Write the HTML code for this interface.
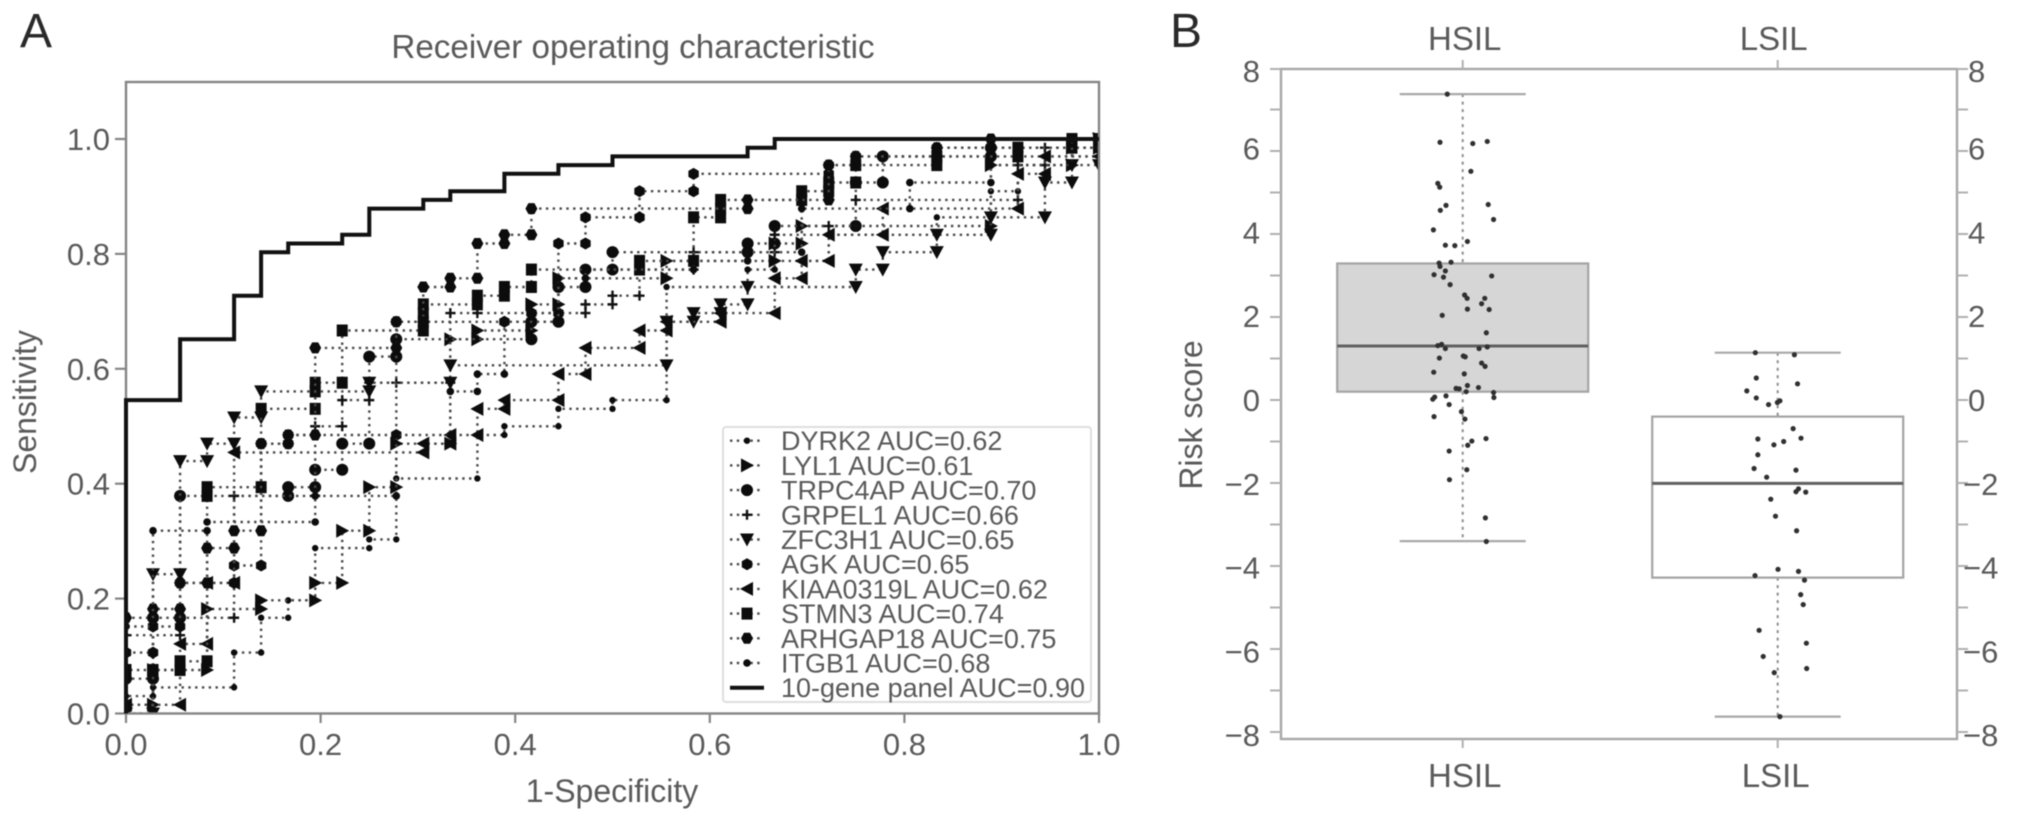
<!DOCTYPE html>
<html lang="en">
<head>
<meta charset="utf-8">
<title>ROC curves and risk score boxplot</title>
<style>
html,body{margin:0;padding:0;background:#fff;width:2032px;height:822px;overflow:hidden}
svg{display:block;filter:blur(.5px)}
text{font-family:"Liberation Sans",sans-serif;fill:#5a5a5a}
</style>
</head>
<body>
<svg id="figure" xmlns="http://www.w3.org/2000/svg" width="2032" height="822" viewBox="0 0 2032 822">
  <defs><clipPath id="roc-clip"><rect x="126" y="82" width="973" height="631.5"/></clipPath></defs>
  <rect x="0" y="0" width="2032" height="822" fill="#fff"/>
  <text x="20" y="47" font-size="48" style="fill:#2a2a2a">A</text>
  <text x="1170" y="47" font-size="48" style="fill:#2a2a2a">B</text>
  <text x="633" y="58" font-size="33.2" text-anchor="middle">Receiver operating characteristic</text>
  <text x="612" y="802" font-size="32" text-anchor="middle">1-Specificity</text>
  <text transform="translate(36,402) rotate(-90)" font-size="32" text-anchor="middle">Sensitivity</text>
  <text transform="translate(1202,415) rotate(-90)" font-size="32" text-anchor="middle">Risk score</text>
  <g id="roc"></g>
  <g id="box"></g>
</svg>
<script>
/* ROC data: counts of false positives (of 36) and true positives (of 66) at each curve corner */
const negativeCount = 36;
const positiveCount = 66;
const rocTicks = [0, 0.2, 0.4, 0.6, 0.8, 1.0];
const dyrk2Fp = [0,1,1,4,4,5,5,6,6,7,7,9,9,10,10,13,13,14,14,16,16,18,18,20,20,23,23,24,24,26,26,30,30,32,32,33,33,36,36];
const dyrk2Tp = [2,2,3,3,7,7,11,11,13,13,19,19,20,20,27,27,32,32,33,33,35,35,36,36,49,49,51,51,52,52,55,55,57,57,60,60,64,64,66];
const lyl1Fp = [0,1,1,3,3,5,5,7,7,8,8,9,9,10,10,12,12,13,13,15,15,16,16,20,20,24,24,25,25,32,32,35,35,36,36];
const lyl1Tp = [1,1,5,5,12,12,13,13,15,15,21,21,26,26,31,31,43,43,44,44,47,47,50,50,52,52,54,54,56,56,63,63,65,65,66];
const trpc4apFp = [0,1,1,2,2,6,6,7,7,8,8,9,9,10,10,15,15,16,16,17,17,18,18,23,23,24,24,27,27,28,28,32,32,36,36];
const trpc4apTp = [4,4,11,11,25,25,26,26,28,28,31,31,41,41,43,43,45,45,49,49,51,51,53,53,54,54,56,56,61,61,64,64,65,65,66];
const grpel1Fp = [0,2,2,4,4,7,7,8,8,9,9,10,12,12,13,17,17,18,18,19,19,21,21,24,24,26,26,27,27,33,33,34,34,36,36];
const grpel1Tp = [9,9,11,11,25,25,33,33,36,36,38,38,38,46,46,46,47,47,48,48,51,51,53,53,55,55,56,56,59,59,63,63,65,65,66];
const zfc3h1Fp = [0,1,1,2,2,3,3,4,4,5,5,9,9,12,12,20,20,21,21,22,22,23,23,27,27,28,28,30,30,32,32,34,34,35,35,36,36];
const zfc3h1Tp = [0,0,16,16,29,29,31,31,34,34,37,37,38,38,40,40,45,45,46,46,47,47,49,49,51,51,53,53,55,55,57,57,61,61,63,63,66];
const agkFp = [0,1,1,2,2,4,4,5,5,6,6,10,10,14,15,15,16,16,17,17,19,19,21,21,26,26,27,27,30,30,35,35,36];
const agkTp = [7,7,10,10,15,15,17,17,31,31,32,32,45,45,45,46,46,54,54,57,57,60,60,62,62,63,63,64,64,65,65,66,66];
const kiaa0319lFp = [0,2,2,3,3,4,4,11,11,12,12,13,13,14,14,16,16,17,17,19,19,20,20,22,22,24,24,25,25,26,26,28,28,33,33,34,34,36,36];
const kiaa0319lTp = [1,1,8,8,15,15,30,30,31,31,32,32,35,35,36,36,39,39,42,42,44,44,45,45,46,46,50,50,52,52,55,55,58,58,62,62,64,64,66];
const stmn3Fp = [0,1,2,2,3,3,3,5,5,7,7,7,8,8,11,11,11,11,13,13,14,14,15,15,19,19,21,21,22,22,22,25,25,26,26,27,27,30,30,33,33,35,35,36];
const stmn3Tp = [5,5,5,6,6,25,26,26,35,35,37,38,38,44,44,45,46,47,47,48,48,49,49,51,51,52,52,57,57,58,59,59,60,60,61,61,63,63,64,64,65,65,66,66];
const arhgap18Fp = [0,1,1,2,2,3,3,4,4,5,5,6,6,7,7,10,10,11,11,12,12,13,13,14,14,15,15,23,23,26,26,27,27,30,30,32,32,36];
const arhgap18Tp = [11,11,12,12,15,15,19,19,21,21,31,31,32,32,42,42,45,45,49,49,50,50,54,54,55,55,58,58,59,59,63,63,64,64,65,65,66,66];
const itgb1Fp = [0,1,1,3,3,7,7,10,10,12,12,13,13,14,14,16,16,17,17,21,21,23,23,25,25,29,29,32,32,35,35,36];
const itgb1Tp = [10,10,21,21,22,22,25,25,32,32,37,37,39,39,45,45,50,50,51,51,52,52,53,53,58,58,61,61,63,63,66,66];
const panelFp = [0,0,2,2,4,4,5,5,6,6,8,8,9,9,11,11,12,12,14,14,16,16,18,18,23,23,24,24,36];
const panelTp = [0,36,36,43,43,48,48,53,53,54,54,55,55,58,58,59,59,60,60,62,62,63,63,64,64,65,65,66,66];
const geneNames = ["DYRK2","LYL1","TRPC4AP","GRPEL1","ZFC3H1","AGK","KIAA0319L","STMN3","ARHGAP18","ITGB1"];
const geneAucs = ["0.62","0.61","0.70","0.66","0.65","0.65","0.62","0.74","0.75","0.68"];
const geneShapes = ["dot","right","circle","plus","down","hex","left","square","hex2","dot2"];
const geneFps = [dyrk2Fp,lyl1Fp,trpc4apFp,grpel1Fp,zfc3h1Fp,agkFp,kiaa0319lFp,stmn3Fp,arhgap18Fp,itgb1Fp];
const geneTps = [dyrk2Tp,lyl1Tp,trpc4apTp,grpel1Tp,zfc3h1Tp,agkTp,kiaa0319lTp,stmn3Tp,arhgap18Tp,itgb1Tp];
const panelAuc = "0.90";

/* Boxplot data */
const boxCategories = ["HSIL","LSIL"];
const boxQ1 = [0.20,-4.28];
const boxMedian = [1.30,-2.01];
const boxQ3 = [3.29,-0.40];
const whiskerLow = [-3.40,-7.63];
const whiskerHigh = [7.37,1.14];
const riskTicks = [-8,-6,-4,-2,0,2,4,6,8];
const riskMinorTicks = [-7,-5,-3,-1,1,3,5,7];
const hsilRisk = [7.37,6.21,6.18,6.23,5.51,5.22,5.13,4.69,4.57,4.71,4.35,4.10,3.82,3.73,3.72,3.30,3.22,3.32,3.11,3.02,2.96,2.99,2.78,2.53,2.45,2.45,2.32,2.19,2.18,2.04,1.62,1.34,1.31,1.24,1.24,1.28,1.01,1.06,1.04,0.89,0.81,0.67,0.63,0.28,0.27,0.35,0.20,0.30,0.18,0.06,0.10,0.07,0.02,-0.11,-0.28,-0.40,-0.46,-0.93,-0.99,-1.09,-1.23,-1.68,-1.92,-2.84,-3.41];
const hsilJitter = [-.049,-.072,.032,.078,.026,-.079,-.073,-.053,-.071,.081,.098,-.093,.015,-.055,-.025,-.075,-.072,-.037,-.055,-.091,-.061,.092,-.040,.006,.014,.070,.060,.015,.084,-.065,.075,-.067,-.079,-.055,.052,.078,-.074,.002,.008,.060,.071,-.092,.005,-.021,-.011,.015,.011,.050,.098,.099,-.053,-.089,-.095,-.043,-.004,-.091,.007,.074,.029,.016,-.043,.013,-.042,.072,.075];
const lsilRisk = [1.14,1.09,.53,.39,.22,.05,-.11,-.06,-.02,-.69,-.94,-.92,-1.00,-1.08,-1.32,-1.65,-1.69,-1.86,-2.14,-2.21,-2.22,-2.39,-2.80,-3.15,-4.08,-4.13,-4.23,-4.34,-4.69,-4.93,-5.55,-5.86,-6.18,-6.57,-6.47,-7.63];
const lsilJitter = [-.071,.053,-.068,.063,-.098,-.068,-.029,-.001,.007,.049,-.063,.074,.019,-.012,-.063,-.075,.058,-.035,.066,.058,.089,-.022,-.007,.060,.001,.066,-.072,.085,.073,.081,-.059,.091,-.046,-.011,.092,.007];

const NS = "http://www.w3.org/2000/svg";
function make(tag, parent) {
  const el = document.createElementNS(NS, tag);
  parent.appendChild(el);
  return el;
}
function setAll(el, props) {
  Object.keys(props).forEach(function (k) { el.setAttribute(k, props[k]); });
}

/* ---------- axis functions ---------- */
const rocX = function (v) { return 126 + 973 * v; };
const rocY = function (v) { return 713.5 - 574.5 * v; };
const boxX = function (pos) { return 1462.7 + 315 * pos; };
const boxY = function (v) { return 400 - 41.5 * v; };
const boxLabelY = function (v) { return Math.max(71, 400 - 41.9 * v); };

/* ---------- marker drawing ---------- */
function markerPath(shape, x, y) {
  const p = function (pts) { return "M" + pts.map(function (q) { return (x + q[0]) + " " + (y + q[1]); }).join("L") + "Z"; };
  if (shape === "right") return p([[-6,-7],[7,0],[-6,7]]);
  if (shape === "left") return p([[6,-7],[-7,0],[6,7]]);
  if (shape === "down") return p([[-7,-6],[7,-6],[0,7]]);
  if (shape === "square") return p([[-5.5,-6],[5.5,-6],[5.5,6],[-5.5,6]]);
  if (shape === "hex") return p([[0,-6],[5.2,-3],[5.2,3],[0,6],[-5.2,3],[-5.2,-3]]);
  if (shape === "hex2") return p([[-3,-5.5],[3,-5.5],[6,0],[3,5.5],[-3,5.5],[-6,0]]);
  return "";
}
function drawMarker(parent, shape, x, y) {
  let el;
  if (shape === "dot" || shape === "dot2" || shape === "circle") {
    el = make("circle", parent);
    el.setAttribute("cx", x);
    el.setAttribute("cy", y);
    el.setAttribute("r", shape === "circle" ? 6 : (shape === "dot2" ? 3.8 : 3.2));
    el.setAttribute("fill", "#0c0c0c");
  } else if (shape === "plus") {
    el = make("path", parent);
    el.setAttribute("d", "M" + (x - 5) + " " + y + "H" + (x + 5) + "M" + x + " " + (y - 5) + "V" + (y + 5));
    el.setAttribute("stroke", "#111");
    el.setAttribute("stroke-width", "2.4");
    el.setAttribute("fill", "none");
  } else {
    el = make("path", parent);
    el.setAttribute("d", markerPath(shape, x, y));
    el.setAttribute("fill", "#0c0c0c");
  }
  return el;
}

/* ---------- ROC panel ---------- */
const roc = document.getElementById("roc");
geneNames.forEach(function (name, s) {
  const g = make("g", roc);
  
  
  g.setAttribute("clip-path", "url(#roc-clip)");
  const fp = geneFps[s];
  const tp = geneTps[s];
  let d = "M" + rocX(0) + " " + rocY(0);
  const n = Math.min(fp.length, tp.length);
  for (let i = 0; i < n; i++) {
    d += "L" + rocX(fp[i] / negativeCount).toFixed(1) + " " + rocY(tp[i] / positiveCount).toFixed(1);
  }
  const line = make("path", g);
  
  
  setAll(line, { d: d, fill: "none", stroke: "#4a4a4a", "stroke-width": "2.4", "stroke-dasharray": "2.4 4.4" });
  for (let i = 0; i < n; i++) {
    const m = drawMarker(g, geneShapes[s], rocX(fp[i] / negativeCount), rocY(tp[i] / positiveCount));
    
    
  }
});

/* ROC frame and ticks */
const rocFrame = make("rect", roc);


setAll(rocFrame, { x: 126, y: 82, width: 973, height: 631.5, fill: "none", stroke: "#858585", "stroke-width": "2.4" });
rocTicks.forEach(function (t) {
  const tx = make("line", roc);
  
  
  setAll(tx, { x1: rocX(t), x2: rocX(t), y1: 713, y2: 723, stroke: "#858585", "stroke-width": "2.2" });
  const lx = make("text", roc);
  
  
  setAll(lx, { x: rocX(t), y: 755, "font-size": "31", "text-anchor": "middle" });
  lx.textContent = t.toFixed(1);
  const ty = make("line", roc);
  
  
  setAll(ty, { x1: 115, x2: 126, y1: rocY(t), y2: rocY(t), stroke: "#858585", "stroke-width": "2.2" });
  const ly = make("text", roc);
  
  
  setAll(ly, { x: 110, y: rocY(t) + 11, "font-size": "31", "text-anchor": "end" });
  ly.textContent = t.toFixed(1);
});

/* Combined panel curve sits over the frame, as in the source figure */
const panelGroup = make("g", roc);


let panelD = "";
for (let i = 0; i < panelFp.length; i++) {
  panelD += (i ? "L" : "M") + rocX(panelFp[i] / negativeCount).toFixed(1) + " " + rocY(panelTp[i] / positiveCount).toFixed(1);
}
const panelLine = make("path", panelGroup);


setAll(panelLine, { d: panelD, fill: "none", stroke: "#111", "stroke-width": "4", "stroke-linejoin": "miter" });

/* Legend */
const legend = make("g", roc);


const legendBox = make("rect", legend);


setAll(legendBox, { x: 723, y: 427, width: 368, height: 275, rx: 3, fill: "#fff", stroke: "#dedede", "stroke-width": "2" });
geneNames.forEach(function (name, s) {
  const rowY = 440.7 + 24.7 * s;
  const dash = make("line", legend);
  
  
  setAll(dash, { x1: 730, x2: 764, y1: rowY, y2: rowY, stroke: "#4a4a4a", "stroke-width": "2.4", "stroke-dasharray": "2.4 4.4" });
  const m = drawMarker(legend, geneShapes[s], 747, rowY);
  
  
  const lab = make("text", legend);
  
  
  setAll(lab, { x: 781, y: rowY + 9.5, "font-size": "27" });
  lab.textContent = name + " AUC=" + geneAucs[s];
});
const panelRowY = 440.7 + 24.7 * 10;
const panelHandle = make("line", legend);


setAll(panelHandle, { x1: 730, x2: 764, y1: panelRowY, y2: panelRowY, stroke: "#111", "stroke-width": "4" });
const panelLabel = make("text", legend);


setAll(panelLabel, { x: 781, y: panelRowY + 9.5, "font-size": "27" });
panelLabel.textContent = "10-gene panel AUC=" + panelAuc;

/* ---------- Box plot panel ---------- */
const box = document.getElementById("box");
const boxFrame = make("rect", box);


setAll(boxFrame, { x: 1281, y: 69, width: 676, height: 670, fill: "none", stroke: "#a8a8a8", "stroke-width": "2.4" });

riskTicks.concat(riskMinorTicks).forEach(function (t) {
  const left = make("line", box);
  
  
  setAll(left, { x1: 1270, x2: 1281, y1: Math.max(69, boxY(t)), y2: Math.max(69, boxY(t)), stroke: "#b0b0b0", "stroke-width": "2" });
  const right = make("line", box);
  
  
  setAll(right, { x1: 1957, x2: 1968, y1: Math.max(69, boxY(t)), y2: Math.max(69, boxY(t)), stroke: "#b0b0b0", "stroke-width": "2" });
});
riskTicks.forEach(function (t) {
  const a = make("text", box);
  
  
  setAll(a, { x: 1260, y: boxLabelY(t) + 11, "font-size": "31", "text-anchor": "end" });
  a.textContent = t < 0 ? "\u2212" + (-t) : String(t);
  const b = make("text", box);
  
  
  setAll(b, { x: t < 0 ? 1963 : 1968, y: boxLabelY(t) + 11, "font-size": "31" });
  b.textContent = t < 0 ? "\u2212" + (-t) : String(t);
});

boxCategories.forEach(function (cat, c) {
  const cx = boxX(c);
  const halfBox = 125.5;
  const halfCap = 63;
  const whisk = make("path", box);
  
  
  setAll(whisk, { d: "M" + cx + " " + boxY(whiskerHigh[c]) + "V" + boxY(boxQ3[c]) + "M" + cx + " " + boxY(boxQ1[c]) + "V" + boxY(whiskerLow[c]), stroke: "#8c8c8c", "stroke-width": "2", "stroke-dasharray": "3 4.5", fill: "none" });
  const capH = make("line", box);
  
  
  setAll(capH, { x1: cx - halfCap, x2: cx + halfCap, y1: boxY(whiskerHigh[c]), y2: boxY(whiskerHigh[c]), stroke: "#a8a8a8", "stroke-width": "2.2" });
  const capL = make("line", box);
  
  
  setAll(capL, { x1: cx - halfCap, x2: cx + halfCap, y1: boxY(whiskerLow[c]), y2: boxY(whiskerLow[c]), stroke: "#a8a8a8", "stroke-width": "2.2" });
  const rect = make("rect", box);
  
  
  setAll(rect, { x: cx - halfBox, y: boxY(boxQ3[c]), width: halfBox * 2, height: boxY(boxQ1[c]) - boxY(boxQ3[c]), fill: c === 0 ? "#d6d6d6" : "#ffffff", stroke: "#a4a4a4", "stroke-width": "2.2" });
  const med = make("line", box);
  
  
  setAll(med, { x1: cx - halfBox, x2: cx + halfBox, y1: boxY(boxMedian[c]), y2: boxY(boxMedian[c]), stroke: "#606060", "stroke-width": "3" });
  const tt = make("line", box);
  
  
  setAll(tt, { x1: cx, x2: cx, y1: 60, y2: 69, stroke: "#b0b0b0", "stroke-width": "2" });
  const tb = make("line", box);
  
  
  setAll(tb, { x1: cx, x2: cx, y1: 739, y2: 748, stroke: "#b0b0b0", "stroke-width": "2" });
  const lt = make("text", box);
  
  
  setAll(lt, { x: cx + (c === 0 ? 2 : -4), y: 50, "font-size": "33", "text-anchor": "middle" });
  lt.textContent = cat;
  const lb = make("text", box);
  
  
  setAll(lb, { x: cx + (c === 0 ? 2 : -2), y: 787, "font-size": "33", "text-anchor": "middle" });
  lb.textContent = cat;
});

hsilRisk.forEach(function (v, i) {
  const d = make("circle", box);
  
  
  setAll(d, { cx: boxX(0 + hsilJitter[i]), cy: boxY(v), r: 2.6, fill: "#303030" });
});
lsilRisk.forEach(function (v, i) {
  const d = make("circle", box);
  
  
  setAll(d, { cx: boxX(1 + lsilJitter[i]), cy: boxY(v), r: 2.6, fill: "#303030" });
});
</script>
</body>
</html>
